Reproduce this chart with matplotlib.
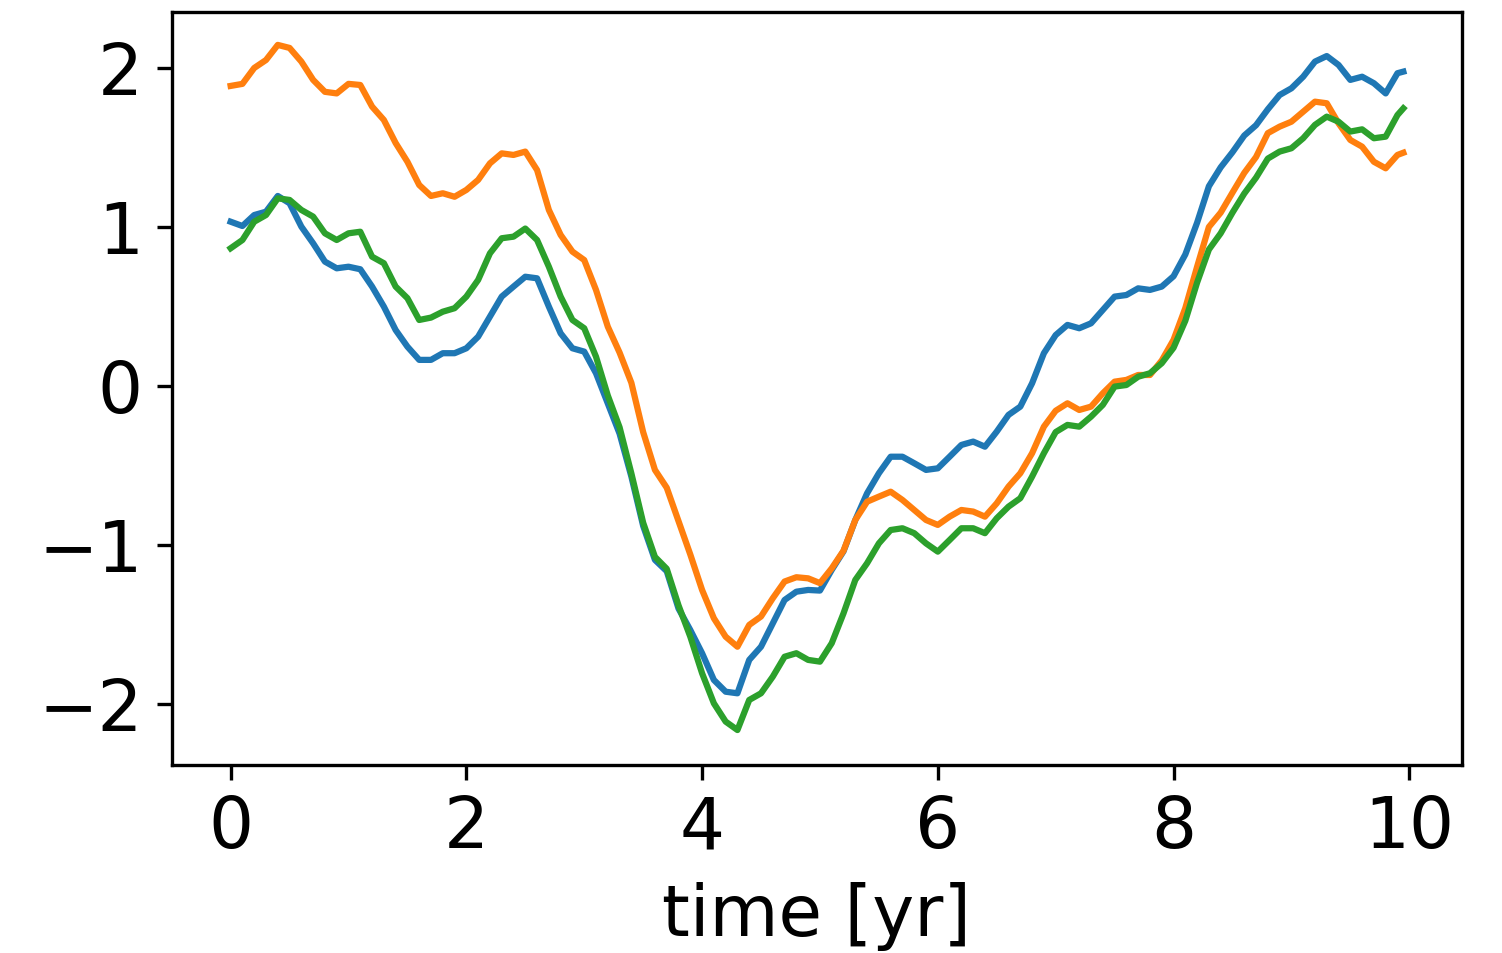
import numpy as np
import matplotlib
matplotlib.use("Agg")
import matplotlib.pyplot as plt

# sample times (yr), read every 0.1 yr; the record ends at 9.95
time = np.append(np.arange(100) / 10, 9.95)

series_a = [
    1.033, 1.006, 1.075, 1.096, 1.195, 1.149, 1.002, 0.897, 0.782, 0.740,
    0.750, 0.734, 0.625, 0.499, 0.352, 0.247, 0.164, 0.164, 0.206, 0.206,
    0.237, 0.310, 0.436, 0.562, 0.625, 0.687, 0.677, 0.499, 0.331, 0.237,
    0.216, 0.080, -0.110, -0.300, -0.570, -0.880, -1.094, -1.165, -1.400, -1.535,
    -1.681, -1.849, -1.923, -1.933, -1.723, -1.640, -1.493, -1.346, -1.294, -1.283,
    -1.287, -1.157, -1.040, -0.843, -0.675, -0.549, -0.445, -0.445, -0.486, -0.528,
    -0.518, -0.445, -0.371, -0.350, -0.382, -0.287, -0.182, -0.130, 0.017, 0.206,
    0.320, 0.384, 0.363, 0.394, 0.478, 0.562, 0.572, 0.614, 0.604, 0.625,
    0.690, 0.827, 1.027, 1.256, 1.375, 1.470, 1.575, 1.640, 1.740, 1.830,
    1.872, 1.945, 2.040, 2.075, 2.019, 1.925, 1.945, 1.904, 1.840, 1.967,
    1.977,
]

series_b = [
    1.887, 1.900, 2.000, 2.050, 2.145, 2.126, 2.040, 1.925, 1.850, 1.840,
    1.900, 1.893, 1.757, 1.673, 1.528, 1.410, 1.264, 1.195, 1.212, 1.190,
    1.233, 1.296, 1.400, 1.463, 1.453, 1.474, 1.358, 1.107, 0.950, 0.845,
    0.792, 0.604, 0.373, 0.210, 0.020, -0.290, -0.528, -0.640, -0.850, -1.060,
    -1.283, -1.461, -1.577, -1.640, -1.503, -1.450, -1.335, -1.230, -1.203, -1.210,
    -1.240, -1.147, -1.036, -0.843, -0.728, -0.696, -0.665, -0.717, -0.780, -0.843,
    -0.874, -0.822, -0.780, -0.790, -0.822, -0.738, -0.633, -0.549, -0.423, -0.256,
    -0.156, -0.109, -0.151, -0.130, -0.046, 0.027, 0.038, 0.069, 0.069, 0.160,
    0.290, 0.490, 0.750, 1.000, 1.090, 1.216, 1.340, 1.440, 1.590, 1.631,
    1.662, 1.725, 1.788, 1.778, 1.652, 1.547, 1.505, 1.410, 1.369, 1.453,
    1.467,
]

series_c = [
    0.866, 0.918, 1.033, 1.075, 1.180, 1.170, 1.107, 1.065, 0.960, 0.918,
    0.960, 0.970, 0.813, 0.772, 0.625, 0.552, 0.415, 0.430, 0.467, 0.489,
    0.562, 0.667, 0.834, 0.929, 0.939, 0.990, 0.918, 0.750, 0.562, 0.415,
    0.363, 0.184, -0.060, -0.260, -0.550, -0.860, -1.075, -1.150, -1.380, -1.577,
    -1.807, -1.996, -2.111, -2.164, -1.975, -1.933, -1.828, -1.703, -1.681, -1.723,
    -1.734, -1.618, -1.430, -1.220, -1.115, -0.990, -0.906, -0.895, -0.926, -0.990,
    -1.042, -0.969, -0.895, -0.895, -0.926, -0.832, -0.759, -0.706, -0.570, -0.423,
    -0.290, -0.245, -0.256, -0.193, -0.119, -0.004, 0.006, 0.058, 0.080, 0.143,
    0.240, 0.410, 0.650, 0.858, 0.960, 1.090, 1.210, 1.310, 1.430, 1.474,
    1.495, 1.558, 1.642, 1.694, 1.662, 1.600, 1.614, 1.558, 1.568, 1.704,
    1.746,
]

plt.rcParams["font.size"] = 17

fig = plt.figure(figsize=(1502 / 300, 953 / 300), dpi=300)
ax = fig.add_axes([172 / 1502, 1 - 765 / 953, (1462 - 172) / 1502, (765 - 12) / 953])

ax.plot(time, series_a, color="C0", linewidth=1.5)
ax.plot(time, series_b, color="C1", linewidth=1.5)
ax.plot(time, series_c, color="C2", linewidth=1.5)

ax.set_ylim(-2.384, 2.352)
ax.set_xticks([0, 2, 4, 6, 8, 10])
ax.set_yticks([-2, -1, 0, 1, 2])
ax.set_xlabel("time [yr]", labelpad=4.5)

fig.savefig("out.png", dpi=300)
